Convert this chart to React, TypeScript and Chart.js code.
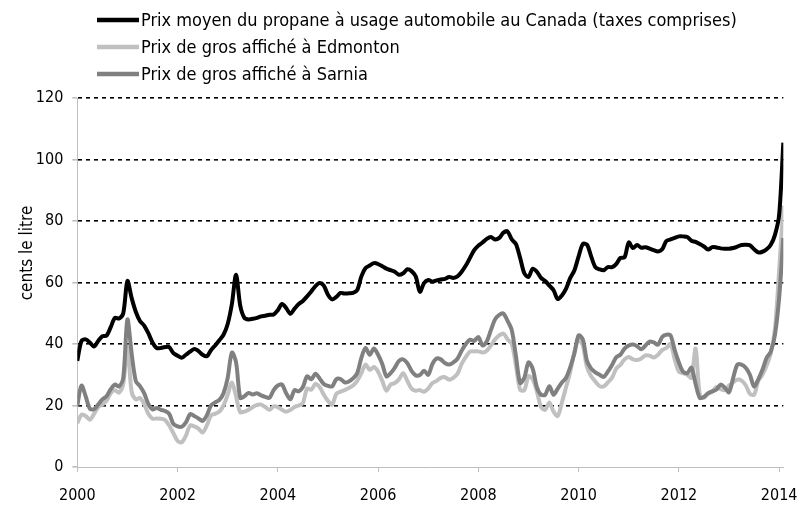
import React, { useEffect, useRef } from 'react';
import { Chart, registerables } from 'chart.js';

Chart.register(...registerables);

const startYear = 2000;
const yearTicks = [2000, 2002, 2004, 2006, 2008, 2010, 2012, 2014];
const seriesNames = [
  'Prix moyen du propane à usage automobile au Canada (taxes comprises)',
  'Prix de gros affiché à Edmonton',
  'Prix de gros affiché à Sarnia',
];
const yTitle = 'cents le litre';

// Monthly values, Jan 2000 – Feb 2014 (cents per litre)
const retail = [
  34.5, 41, 41.5, 40.5, 39.2, 41, 42.5, 42.7, 45.5, 48.5, 48.3, 50,
  60.5, 55, 50.5, 47.5, 46, 43.5, 40.5, 38.7, 38.7, 39, 39, 37,
  36.2, 35.5, 36.5, 37.5, 38.4, 37.7, 36.5, 36, 38, 39.5, 41.2, 43,
  46.5, 53, 62.5, 52.5, 48.5, 48, 48.2, 48.5, 49, 49.2, 49.5, 49.6,
  51, 53, 51.7, 49.8, 51.5, 53, 54, 55.5, 57.1, 58.8, 59.8, 59,
  56, 54.5, 55.3, 56.6, 56.4, 56.5, 56.6, 57.5, 62, 64.7, 65.5, 66.3,
  66, 65.3, 64.5, 64, 63.5, 62.5, 63, 64.3, 63.7, 62, 57, 59.8,
  60.8, 60.3, 60.7, 61, 61.2, 61.8, 61.5, 62, 63.5, 65.5, 68, 70.5,
  72, 73, 74.2, 74.8, 74, 74.5, 76.2, 76.6, 74, 72.5, 68, 63,
  61.8, 64.5, 63.5, 61.5, 60.5, 59, 57.5, 54.6, 55.8, 58, 61.5, 64,
  68.5, 72.5, 72.3, 68.5, 65, 64.3, 64, 65, 65, 66, 68, 68.2,
  73, 71.2, 72.2, 71.3, 71.5, 71, 70.5, 70.1, 70.8, 73.5, 74, 74.5,
  75, 75, 74.8, 73.6, 73.2, 72.5, 71.7, 70.7, 71.5, 71.4, 71.1, 71,
  71, 71.2, 71.7, 72.2, 72.3, 72.1, 70.8, 69.8, 70, 70.8, 72.3, 75.5,
  82, 105.5,
];

const edmonton = [
  14.3, 17, 16.6, 15.4, 17.3, 19.5, 20.3, 21.5, 24, 25, 24.2, 27,
  39, 24.5, 22, 22.4, 20.5, 17.3, 15.7, 15.8, 15.7, 15.3, 13.5, 11,
  8.5, 8, 10.2, 13.5, 13.2, 12.5, 11.2, 13.5, 16.8, 17.3, 18, 20,
  23.5, 27.5, 23, 17.8, 18, 18.6, 19.5, 20.2, 20.3, 19.5, 18.6, 19.7,
  19.5, 18.6, 18, 18.5, 19.5, 20, 20.8, 25.5, 25.1, 27, 26, 23.5,
  21.5, 20.3, 23.8, 24.5, 25, 25.7, 26.5, 28, 30.5, 33.3, 31.6, 32.5,
  31, 28, 24.8, 26.8, 27.3, 28.5, 30.5, 28, 25.5, 24.8, 25, 24.5,
  25.5, 27.3, 28, 29, 29.2, 28.4, 29, 30.3, 33.5, 35.8, 37.5, 37.6,
  37.6, 37.2, 37.8, 39.5, 41.5, 42.8, 43.4, 41.5, 40, 33, 25.1, 25,
  29.5, 28.5, 24.6, 19.5, 18.6, 21, 18, 16.6, 21, 26, 31, 37.5,
  41.5, 39.5, 32.5, 29.5, 27.8, 26.3, 26.2, 27.5, 29, 32, 33.2, 35,
  35.8, 35, 34.8, 35.3, 36.3, 36.2, 35.6, 36.5, 38, 38.7, 40, 35,
  31, 30.5, 30, 29, 38.5, 23.5, 22.5, 23.8, 24.6, 26, 25.3, 25,
  26.5, 27.5, 28.4, 28.1, 26.6, 23.8, 23.5, 28, 30, 33, 37, 45,
  64, 85,
];

const sarnia = [
  20, 26.5, 23, 19, 18.8, 20.3, 22, 23, 25.3, 26.8, 26.2, 29,
  48, 37, 28, 26.3, 24, 20.5, 18.7, 19.2, 18.6, 18.2, 17.3, 14,
  13.2, 13.1, 14.5, 17.2, 16.6, 15.8, 15, 16.8, 20, 21, 21.8, 24,
  29, 37.2, 34, 22.5, 23, 24.1, 23.6, 24, 23.3, 22.8, 22.5, 25,
  26.5, 26.8, 24, 22, 25, 24.6, 26, 29.5, 28.5, 30.3, 28.8, 27,
  26.4, 26.2, 28.5, 28.6, 27.5, 27.8, 28.8, 30.5, 35.5, 38.7, 36.5, 38.5,
  36.5, 33.5, 29.5, 30.5, 32.3, 34.5, 35, 33.8, 31.3, 29.8, 29.9, 31.3,
  30, 33.5, 35.3, 35, 33.8, 33.3, 34, 35.2, 37.8, 40, 41.4, 41,
  42.3, 39.5, 40.8, 44.5, 48, 49.5, 49.9, 47.5, 44.5, 36, 27.3, 29,
  34, 32, 26, 23.5, 23.5, 26.3, 23.5, 25.5, 27.5, 29, 32.5, 37,
  42.8, 41.5, 34.5, 32, 30.8, 30, 29.3, 31, 33.2, 35.7, 36.5, 38.5,
  39.5, 39.8, 39.3, 38.3, 39.5, 40.8, 40.5, 39.8, 42.3, 43, 42.8, 38,
  34, 31, 30.5, 32.3, 27, 22.5, 22.8, 24, 24.6, 25.2, 26.8, 25.8,
  24.3, 29, 33.3, 33.3, 32.3, 30, 26.2, 28.5, 31.6, 35.5, 37.5, 43,
  55, 74.5,
];

const seriesColors = ['#000000', '#c0c0c0', '#808080'];
const FONT = '"DejaVu Sans Condensed", "DejaVu Sans", sans-serif';

const toPoints = (values: number[]) =>
  values.map((v, i) => ({ x: startYear + i / 12, y: v }));

// Vertical (stacked) legend above the plot, plus the y-axis title
const stackedLegend = {
  id: 'stackedLegend',
  afterDraw(chart: any) {
    const ctx = chart.ctx as CanvasRenderingContext2D;
    ctx.save();
    ctx.font = `18px ${FONT}`;
    ctx.textBaseline = 'middle';
    ctx.textAlign = 'left';
    chart.data.datasets.forEach((ds: any, i: number) => {
      const y = 20 + i * 27;
      ctx.strokeStyle = ds.borderColor;
      ctx.lineWidth = 4.5;
      ctx.lineCap = 'butt';
      ctx.beginPath();
      ctx.moveTo(97, y);
      ctx.lineTo(139, y);
      ctx.stroke();
      ctx.fillStyle = '#000';
      ctx.fillText(ds.label, 141, y + 1);
    });
    // y-axis title
    ctx.translate(28, 253);
    ctx.rotate(-Math.PI / 2);
    ctx.font = `17px ${FONT}`;
    ctx.textAlign = 'center';
    ctx.fillStyle = '#000';
    ctx.fillText(yTitle, 0, 0);
    ctx.restore();
  },
};

export default function App() {
  const canvasRef = useRef<HTMLCanvasElement | null>(null);

  useEffect(() => {
    if (!canvasRef.current) return;
    Chart.defaults.font.family = FONT;
    Chart.defaults.font.size = 16;
    Chart.defaults.color = '#000';
    const series = [retail, edmonton, sarnia];
    const chart = new Chart(canvasRef.current, {
      type: 'line',
      data: {
        datasets: series.map((vals, i) => ({
          label: seriesNames[i],
          data: toPoints(vals),
          borderColor: seriesColors[i],
          backgroundColor: seriesColors[i],
          borderWidth: 4,
          pointRadius: 0,
          tension: 0.3,
          fill: false,
          order: i === 0 ? 0 : i === 2 ? 1 : 2,
        })),
      },
      options: {
        animation: false,
        responsive: true,
        maintainAspectRatio: false,
        layout: { padding: { top: 98, left: 0, right: 23.5, bottom: 0 } },
        plugins: {
          legend: { display: false },
          tooltip: { enabled: false },
        },
        scales: {
          x: {
            type: 'linear',
            min: startYear,
            max: startYear + (retail.length - 1) / 12,
            afterBuildTicks: (scale: any) => {
              scale.ticks = yearTicks.map((v) => ({ value: v }));
            },
            afterFit: (scale: any) => {
              scale.height = 45;
            },
            ticks: {
              callback: (v: any) => String(v),
              padding: 14.4,
              autoSkip: false,
              maxRotation: 0,
              color: '#000',
              font: { size: 16 },
            },
            grid: {
              display: true,
              drawOnChartArea: false,
              drawTicks: true,
              tickLength: 5,
              tickColor: '#bfbfbf',
            },
            border: { display: true, color: '#bfbfbf', width: 1 },
          },
          y: {
            min: 0,
            max: 120,
            afterFit: (scale: any) => {
              scale.width = 77.3;
            },
            ticks: { stepSize: 20, padding: 9, color: '#000', font: { size: 16 } },
            title: { display: false, text: yTitle },
            grid: {
              color: (ctx: any) => (ctx.tick && ctx.tick.value === 0 ? 'rgba(0,0,0,0)' : '#000'),
              lineWidth: 1.6,
              drawTicks: true,
              tickLength: 5,
              tickColor: '#bfbfbf',
            },
            border: { display: true, color: '#bfbfbf', width: 1, dash: [4, 4] },
          },
        },
      },
      plugins: [stackedLegend],
    } as any);
    return () => chart.destroy();
  }, []);

  return (
    <div style={{ position: 'absolute', left: 0, top: 0, width: 812, height: 512, background: '#fff' }}>
      <canvas ref={canvasRef} />
    </div>
  );
}
